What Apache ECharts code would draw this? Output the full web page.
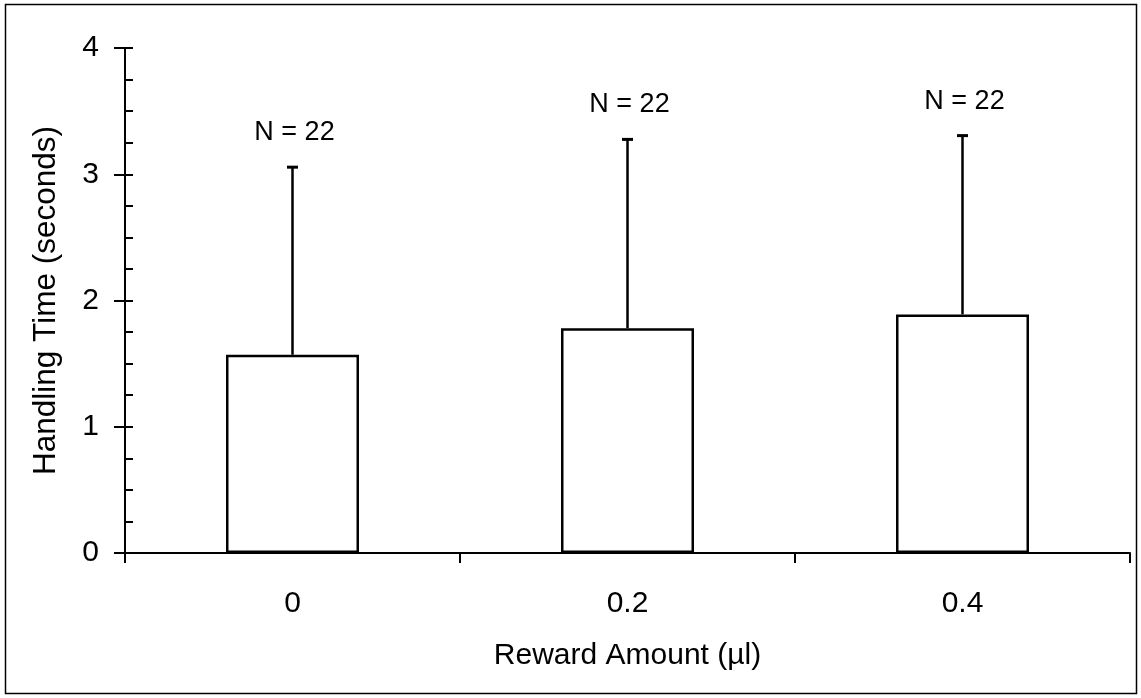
<!DOCTYPE html>
<html>
<head>
<meta charset="utf-8">
<script src="https://cdn.jsdelivr.net/npm/echarts@6/dist/echarts.min.js"></script>
<style>
  html, body { margin: 0; padding: 0; background: #fff; }
  #chart { width: 1141px; height: 698px; }
</style>
</head>
<body>
<div id="chart"></div>
<script>
// Reward amounts (µl) on the x axis
const categories = ['0', '0.2', '0.4'];
// Mean handling time (seconds)
const meanTime = [1.57, 1.78, 1.89];
// Upper end of the error bar (mean + SD)
const upperTime = [3.06, 3.28, 3.31];
// Sample size per group
const sampleSizes = [22, 22, 22];

const font = 'Liberation Sans, Arial, sans-serif';
const chart = echarts.init(document.getElementById('chart'));

chart.setOption({
  animation: false,
  graphic: [{
    // outer frame
    type: 'rect',
    shape: { x: 5.5, y: 4.5, width: 1131, height: 689 },
    style: { fill: 'none', stroke: '#000', lineWidth: 1.5 },
    silent: true
  }],
  grid: { left: 125, right: 11, top: 48, bottom: 145, outerBoundsMode: 'none', containLabel: false },
  xAxis: {
    type: 'category',
    data: categories,
    name: 'Reward Amount (µl)',
    nameLocation: 'middle',
    nameGap: 88,
    nameTextStyle: { fontFamily: font, fontSize: 30, color: '#000' },
    axisLine: { lineStyle: { color: '#000', width: 2 } },
    axisTick: { show: true, length: 10, lineStyle: { color: '#000', width: 2 } },
    axisLabel: { fontFamily: font, fontSize: 30, color: '#000', margin: 36 }
  },
  yAxis: [
    {
      // main value axis: labels and outward major ticks
      type: 'value',
      min: 0, max: 4, interval: 1,
      name: 'Handling Time (seconds)',
      nameLocation: 'middle',
      nameGap: 63,
      nameTextStyle: { fontFamily: font, fontSize: 31.5, color: '#000' },
      axisLine: { show: true, lineStyle: { color: '#000', width: 2 } },
      axisTick: { show: true, length: 11, lineStyle: { color: '#000', width: 2 } },
      axisLabel: { fontFamily: font, fontSize: 30, color: '#000', margin: 26 },
      splitLine: { show: false }
    },
    {
      // same scale, drawing the inward major and minor ticks
      type: 'value',
      position: 'left',
      min: 0, max: 4, interval: 1,
      axisLine: { show: false },
      axisTick: { show: true, inside: true, length: 8, lineStyle: { color: '#000', width: 2 } },
      minorTick: { show: true, splitNumber: 4, length: 8, lineStyle: { color: '#000', width: 2 } },
      axisLabel: { show: false },
      splitLine: { show: false }
    }
  ],
  series: [
    {
      type: 'bar',
      data: meanTime,
      barWidth: 133,
      itemStyle: { color: '#fff', borderColor: '#000', borderWidth: 2.5 }
    },
    {
      // error bars: line from bar top to upper value, with a short cap
      type: 'custom',
      data: categories.map((c, i) => [i, meanTime[i], upperTime[i]]),
      renderItem: function (params, api) {
        const lo = api.coord([api.value(0), api.value(1)]);
        const hi = api.coord([api.value(0), api.value(2)]);
        const cap = 5.5;
        return {
          type: 'group',
          children: [
            { type: 'line', shape: { x1: lo[0], y1: lo[1], x2: hi[0], y2: hi[1] },
              style: { stroke: '#000', lineWidth: 2.5 } },
            { type: 'line', shape: { x1: hi[0] - cap, y1: hi[1] + 0.5, x2: hi[0] + cap, y2: hi[1] + 0.5 },
              style: { stroke: '#000', lineWidth: 3 } }
          ]
        };
      },
      z: 5
    },
    {
      // sample size labels above each error bar
      type: 'custom',
      data: categories.map((c, i) => [i, upperTime[i], sampleSizes[i]]),
      renderItem: function (params, api) {
        const p = api.coord([api.value(0), api.value(1)]);
        return {
          type: 'text',
          x: p[0] + 2,
          y: p[1] - 34,
          style: {
            text: 'N = ' + api.value(2),
            fontFamily: font, fontSize: 27, fill: '#000',
            align: 'center', verticalAlign: 'middle'
          }
        };
      },
      z: 6
    }
  ]
});
</script>
</body>
</html>
